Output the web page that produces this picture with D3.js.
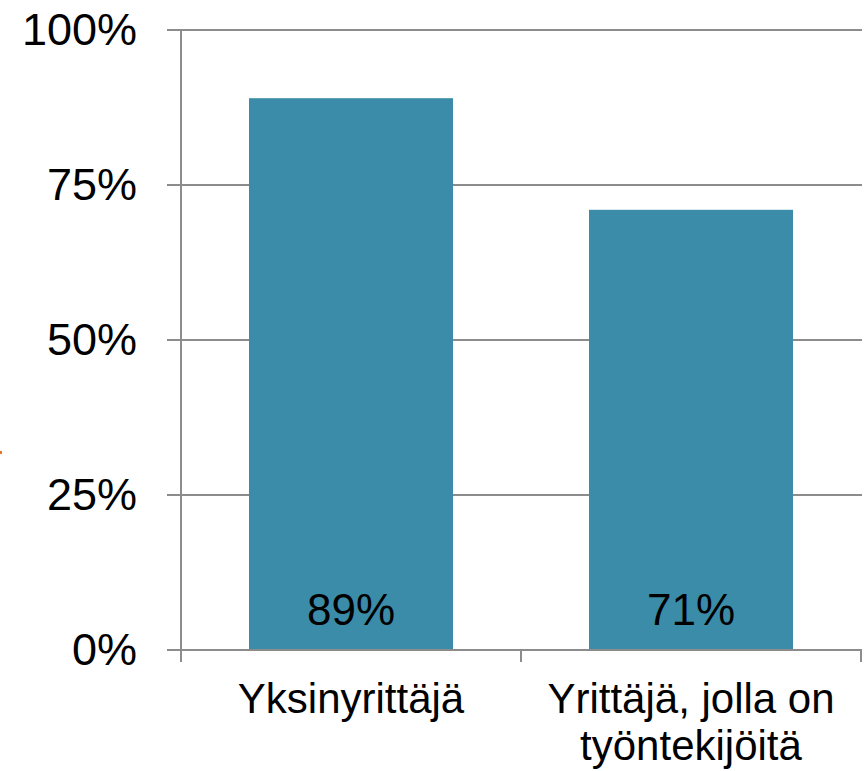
<!DOCTYPE html>
<head>
<meta charset="utf-8">
<title>Yrittäjät</title>
<style>
  body { margin: 0; background: #fff; }
  svg text { font-family: "Liberation Sans", Arial, sans-serif; fill: #000; }
</style>
</head>

<div id="chart"></div>

<script src="https://cdn.jsdelivr.net/npm/d3@7"></script>
<script>
// data
const categories = ["Yksinyrittäjä", "Yrittäjä, jolla on|työntekijöitä"];
const values = [0.89, 0.71];
const yTicks = [0, 0.25, 0.5, 0.75, 1];

const W = 866, H = 771;
const margin = {top: 30, right: 5, bottom: 121, left: 181};

const svg = d3.select("#chart").append("svg")
    .attr("width", W).attr("height", H);

const x = d3.scaleBand()
    .domain(categories)
    .range([margin.left, W - margin.right])
    .paddingInner(0.4)
    .paddingOuter(0.2);

const y = d3.scaleLinear()
    .domain([0, 1])
    .range([H - margin.bottom, margin.top]);

// gridlines
svg.append("g")
  .selectAll("line")
  .data(yTicks)
  .join("line")
    .attr("x1", margin.left - 14)
    .attr("x2", W - margin.right + 1)
    .attr("y1", d => y(d)).attr("y2", d => y(d))
    .attr("stroke", "#8c8c8c")
    .attr("stroke-width", 2);

// y axis
const yAxis = svg.append("g")
    .attr("transform", `translate(${margin.left},0)`)
    .call(d3.axisLeft(y).tickValues(yTicks).tickFormat(d3.format(".0%")).tickSize(0).tickPadding(44));
yAxis.select(".domain").remove();
yAxis.selectAll("text").style("font-size", "45px");

svg.append("line")
    .attr("x1", margin.left).attr("x2", margin.left)
    .attr("y1", y(1)).attr("y2", y(0) + 12)
    .attr("stroke", "#8c8c8c").attr("stroke-width", 2);

// x ticks at category boundaries
const step = x.step();
const bounds = [margin.left, margin.left + (W - margin.right - margin.left) / 2, W - margin.right];
svg.append("g")
  .selectAll("line")
  .data(bounds)
  .join("line")
    .attr("x1", d => d).attr("x2", d => d)
    .attr("y1", y(0)).attr("y2", y(0) + 12)
    .attr("stroke", "#8c8c8c").attr("stroke-width", 2);

// bars
svg.append("g")
  .selectAll("rect")
  .data(values)
  .join("rect")
    .attr("x", (d, i) => x(categories[i]))
    .attr("width", x.bandwidth())
    .attr("y", d => y(d))
    .attr("height", d => y(0) - y(d) - 1)
    .attr("fill", "#3a8ca9");

// value labels
svg.append("g")
  .selectAll("text")
  .data(values)
  .join("text")
    .attr("x", (d, i) => x(categories[i]) + x.bandwidth() / 2)
    .attr("y", y(0) - 25)
    .attr("text-anchor", "middle")
    .style("font-size", "44px")
    .text(d => d3.format(".0%")(d));

// category labels
const xl = svg.append("g")
  .selectAll("text")
  .data(categories)
  .join("text")
    .attr("x", d => x(d) + x.bandwidth() / 2)
    .attr("y", 713)
    .attr("text-anchor", "middle")
    .style("font-size", "42px");
xl.selectAll("tspan")
  .data(d => d.split("|"))
  .join("tspan")
    .attr("x", function() { return this.parentNode.getAttribute("x"); })
    .attr("dy", (d, i) => i ? 47 : 0)
    .text(d => d);

// small orange mark at left edge
svg.append("rect")
    .attr("x", 0).attr("y", 451).attr("width", 2).attr("height", 3)
    .attr("fill", "#e8732e");
</script>
